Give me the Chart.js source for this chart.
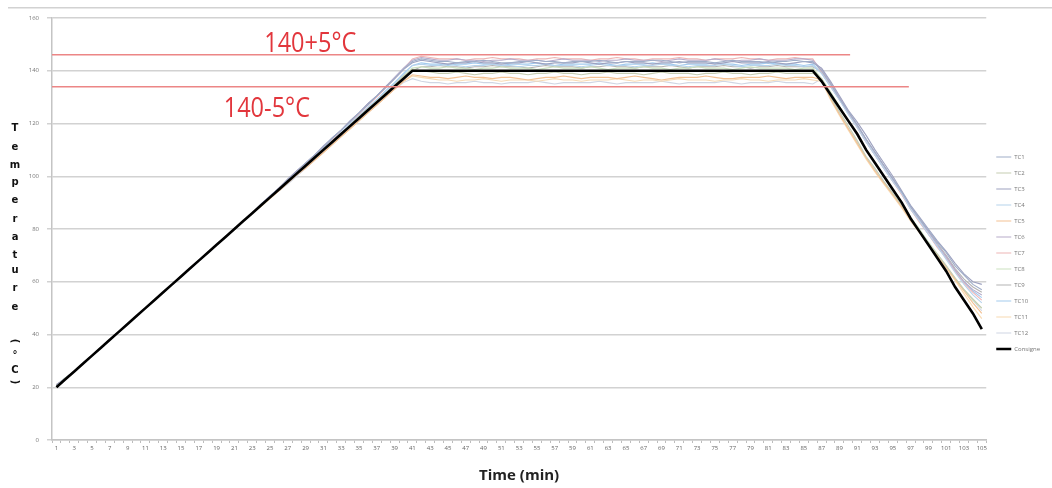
<!DOCTYPE html>
<html>
<head>
<meta charset="utf-8">
<script src="https://cdn.jsdelivr.net/npm/chart.js@4.4.0/dist/chart.umd.min.js"></script>
<style>
  html, body { margin: 0; padding: 0; background: #fff; }
  #wrap { width: 1052px; height: 488px; }
</style>
</head>
<body>
<div id="wrap"><canvas id="tempChart"></canvas></div>
<script>
// time in minutes
var minutes = [1,2,3,4,5,6,7,8,9,10,11,12,13,14,15,16,17,18,19,20,
  21,22,23,24,25,26,27,28,29,30,31,32,33,34,35,36,37,38,39,40,
  41,42,43,44,45,46,47,48,49,50,51,52,53,54,55,56,57,58,59,60,
  61,62,63,64,65,66,67,68,69,70,71,72,73,74,75,76,77,78,79,80,
  81,82,83,84,85,86,87,88,89,90,91,92,93,94,95,96,97,98,99,100,
  101,102,103,104,105];

var yTicks = [0,20,40,60,80,100,120,140,160];

// setpoint
var consigne = [20,23,26,29,32, 35,38,41,44,47, 50,53,56,59,62, 65,68,71,74,77,
  80,83,86,89,92, 95,98,101,104,107, 110,113,116,119,122, 125,128,131,134,137, 140,
  140,140,140,140,140, 140,140,140,140,140, 140,140,140,140,140, 140,140,140,140,140,
  140,140,140,140,140, 140,140,140,140,140, 140,140,140,140,140, 140,140,140,140,140,
  140,140,140,140,140,
  136,131,126,121,116, 110,105,100,95,90, 84,79,74,69,64, 58,53,48,42];

// thermocouples
var tc1 = [21,23,26,29,32, 35,38,41,44,47, 50,53,56,59,62, 65,68,71,74,77,
  80,83,86,89,92.5, 95.5,98.5,101.5,105,108, 111,114.5,117.5,120.5,124, 127,130.5,133.5,137,140.5, 143.5,
  144.5,144,143.5,143.5,143, 143.5,143.5,144,143.5,143, 143,143.5,143.5,144,143.5, 143.5,143,143.5,143.5,143.5,
  144,143.5,143,143.5,143.5, 143.5,144,144,143.5,143, 143.5,143.5,143.5,143,143.5, 144,143.5,143.5,143.5,143,
  143.5,143.5,144,143.5,143.5,
  140,135,129.5,124.5,119.5, 114,109,104,99,94, 88.5,84,79.5,75,71, 66,62.5,59,57];

var tc2 = [20.5,23.5,26,29,32, 35,38,41,44,47, 50,53,56,59,62, 65,68,71,74,77,
  80,83,86,89,92, 95,98,101,104,107, 110,113,116,119.5,122.5, 125.5,128.5,131.5,134.5,138, 140.5,
  140,139.5,139,139,139.5, 139,138.5,139,139,139.5, 139,139,138.5,139,139, 139.5,139,139,138.5,139,
  139,139.5,139,139,139, 138.5,139,139.5,139,139, 139,138.5,139,139,139.5, 139,139,138.5,139,139,
  139.5,139,139,139,139,
  137,130,124.5,119,113.5, 107.5,103,98,93.5,89, 84,79.5,74.5,70.5,66, 61.5,57,53.5,50];

var tc3 = [21,23.5,26,29,32, 35,38,41,44,47, 50,53,56,59,62, 65,68,71,74,77,
  80,83,86,89.5,92.5, 95.5,99,102,105,108, 111.5,114.5,117.5,121,124, 127.5,130.5,134,137,140.5, 143,
  144,143.5,143,142.5,143, 143,143.5,143,143,142.5, 143,143,143.5,143,142.5, 143,143,143,143.5,143,
  142.5,143,143,143.5,143, 143,142.5,143,143,143.5, 143,143,143,142.5,143, 143.5,143,143,143,143.5,
  143,142.5,143,143.5,143,
  141,136,130.5,125,120.5, 115.5,110,105,100,94.5, 89,84.5,80,75.5,71.5, 67,63,60,59];

var tc4 = [20.5,23.5,26,29,32, 35,38,41,44,47, 50,53,56,59,62, 65,68,71,74,77,
  80,83,86,89,92, 95,98,101,104,107.5, 110.5,113.5,116.5,120,123, 126,129,132,135,138.5, 142,
  142.5,142,142,142.5,142, 141.5,142,142,142.5,142, 142,141.5,142,142,142.5, 142,142,142,141.5,142,
  142.5,142,142,142,141.5, 142,142,142.5,142,142, 141.5,142,142,142,142.5, 142,141.5,142,142,142,
  142.5,142,142,141.5,142,
  139,134,129,123.5,118.5, 113,108,103,98,93.5, 87.5,83,78,73.5,68.5, 63.5,59,55,52];

var tc5 = [21,23,26,29,32, 35,38,41,44,47, 50,53,56,59,62, 65,68,71,74,77,
  80,83,86,89,91.5, 94.5,97.5,100.5,103,106, 109,112,115,118,121, 124,127,130,133,136, 138.5,
  138,137.5,137.5,137,137.5, 138,137.5,137.5,137,137.5, 137.5,137,136.5,137,137.5, 137.5,138,137.5,137,137.5,
  137.5,137.5,137,137.5,138, 137.5,137,136.5,137,137.5, 137.5,137.5,138,137.5,137, 137,137.5,137.5,137.5,138,
  137.5,137,137.5,137.5,137.5,
  136.5,129.5,123.5,118,112.5, 107,102,97.5,93,88.5, 83.5,79,74.5,70,65.5, 61,56.5,52,48];

var tc6 = [21,23,26,29,32, 35,38,41,44,47, 50,53,56,59,62, 65,68,71,74,77,
  80,83,86,89,92.5, 95.5,98.5,102,105,108, 111,114.5,117.5,121,124, 127.5,130.5,134,137.5,141, 144,
  145,144.5,144,144,144.5, 144,144,143.5,144,144, 144.5,144,144,144,143.5, 144,144.5,144,144,144,
  143.5,144,144,144.5,144, 144,144,143.5,144,144.5, 144,144,144,144.5,144, 143.5,144,144,144.5,144,
  144,144,144.5,144.5,144,
  140.5,135.5,130,124.5,119.5, 114,109,104,99,94, 88.5,83.5,79,74,69.5, 64.5,60,57,55];

var tc7 = [21,23,26,29,32, 35,38,41,44,47, 50,53,56,59,62, 65,68,71,74,77,
  80,83,86,89,92, 95.5,98.5,101.5,104.5,108, 111,114,117.5,120.5,123.5, 127,130,133.5,137,140.5, 144.5,
  145.5,145,144.5,144.5,144.5, 144,144.5,144.5,145,144.5, 144.5,144.5,144,144.5,144.5, 145,144.5,144.5,144.5,144,
  144.5,144.5,145,144.5,144.5, 144,144.5,144.5,144.5,145, 144.5,144.5,144,144.5,144.5, 144.5,145,144.5,144.5,144,
  144.5,144.5,145,144.5,144.5,
  139.5,134,129,124,118.5, 113,108,103,98,93, 87.5,82.5,78,73,69, 64,59.5,56,53];

var tc8 = [20.5,23.5,26,29,32, 35,38,41,44,47, 50,53,56,59,62, 65,68,71,74,77,
  80,83,86,89,92, 95,98,101,104,107, 110,113,116,119,122.5, 125.5,128.5,131.5,135,138, 141,
  141.5,141,141,141.5,141, 141,140.5,141,141,141.5, 141,141,141,140.5,141, 141.5,141,141,141,141.5,
  141,140.5,141,141,141, 141.5,141,141,140.5,141, 141,141.5,141,141,141, 140.5,141,141.5,141,141,
  141,141,140.5,141,141,
  137,132,126.5,121,116, 110,105,100,95,90, 84.5,80,75,70.5,66, 61,57,53,50];

var tc9 = [21,23,26,29,32, 35,38,41,44,47, 50,53,56,59,62, 65,68,71,74,77,
  80,83,86,89,92, 94.5,97.5,100.5,103.5,106.5, 109.5,112.5,115.5,118.5,121.5, 124.5,127.5,130.5,133.5,137, 140,
  141.5,141.5,142,141.5,141.5, 141,141.5,141.5,142,141.5, 141.5,141.5,141,141.5,142, 141.5,141.5,141.5,141,141.5,
  141.5,142,141.5,141.5,141, 141.5,141.5,141.5,142,141.5, 141,141.5,141.5,141.5,142, 141.5,141.5,141,141.5,141.5,
  142,141.5,141.5,141.5,141.5,
  139.5,135,129.5,124.5,119, 114,109,104,99,94, 88.5,83.5,79,74.5,70, 65,61,58,56];

var tc10 = [20.5,23.5,26,29,32, 35,38,41,44,47, 50,53,56,59,62, 65,68,71,74,77,
  80,83,86,89,92, 95,98,101,104,107, 110.5,113.5,116.5,119.5,123, 126,129,132.5,135.5,139, 142,
  143,142.5,142.5,142,142.5, 142.5,143,142.5,142.5,142, 142.5,142.5,142.5,143,142.5, 142,142.5,142.5,142.5,142.5,
  143,142.5,142,142.5,142.5, 142.5,143,142.5,142.5,142, 142.5,142.5,142.5,143,142.5, 142.5,142,142.5,142.5,143,
  142.5,142.5,142.5,142,142.5,
  139,134,129,123.5,118.5, 113,108,103,98,93.5, 87.5,83,78,73.5,69, 64,60,56.5,54];

var tc11 = [21,23,26,29,32, 35,38,41,44,47, 50,53,56,59,62, 65,68,71,74,77,
  80,83,86,88.5,91.5, 94.5,97.5,100.5,103.5,106, 109,112,115,118,121, 124,127,130,133,136, 138,
  137.5,137,136.5,136.5,136, 136.5,136.5,137,136.5,136, 136.5,136.5,136.5,136,136.5, 137,136.5,136.5,136,136.5,
  136.5,136.5,137,136.5,136, 136.5,136.5,136,136.5,137, 136.5,136.5,136.5,136,136.5, 136.5,137,136.5,136.5,136,
  136.5,136.5,136.5,137,136.5,
  136,129,123,117.5,112, 106.5,101.5,97,92.5,88, 83,78.5,74,69.5,65, 60.5,55.5,50.5,46];

var tc12 = [21,23,26,29,32, 35,38,41,44,47, 50,53,56,59,62, 65,68,71,74,77,
  80,83,86,89,91.5, 94.5,97,100,103,106, 109,112,115,118,121, 124,127,130,133,135.5, 137,
  136,135.5,135.5,135,135.5, 135.5,136,135.5,135.5,135, 135.5,135.5,135.5,136,135.5, 135,135.5,135.5,135.5,135.5,
  136,135.5,135,135.5,135.5, 135.5,135.5,136,135.5,135, 135.5,135.5,135.5,135.5,136, 135.5,135,135.5,135.5,135.5,
  136,135.5,135.5,135.5,135,
  137,130.5,124,118,113, 107,102.5,98,93.5,89, 84,79.5,75,70.5,66, 61,57,53,49];

var seriesNames = ['TC1','TC2','TC3','TC4','TC5','TC6','TC7','TC8','TC9','TC10','TC11','TC12'];
var seriesData = [tc1,tc2,tc3,tc4,tc5,tc6,tc7,tc8,tc9,tc10,tc11,tc12];
var seriesColors = ['#9fadc8','#c6cdb2','#9ea2c0','#b6d3ec','#f3c193','#b7acca',
                    '#eeb5b5','#cbe2c0','#b4b4b4','#a3cbee','#f7dab2','#d0d6e3'];

// tolerance band 140 +/- 5
var limitValues = [146, 133.7];
var limitLabels = ['140+5°C', '140-5°C'];

var datasets = seriesNames.map(function (name, i) {
  return {
    label: name,
    data: seriesData[i],
    borderColor: seriesColors[i],
    backgroundColor: seriesColors[i],
    borderWidth: 1.1,
    pointRadius: 0,
    tension: 0,
    order: 1
  };
});
datasets.push({
  label: 'Consigne',
  data: consigne,
  borderColor: '#000',
  backgroundColor: '#000',
  borderWidth: 2.6,
  pointRadius: 0,
  tension: 0,
  order: 0
});

// red band lines, their captions, frame line and stacked y title
var extras = {
  id: 'extras',
  beforeDraw: function (chart) {
    var ctx = chart.ctx;
    ctx.save();
    ctx.fillStyle = '#d2d2d2';
    ctx.fillRect(8, 7, 1044, 1.5);
    ctx.restore();
  },
  afterDatasetsDraw: function (chart) {
    var ctx = chart.ctx, x = chart.scales.x, y = chart.scales.y;
    var ends = [89.2, 95.8];
    var textAt = [[23.35, 147.1], [18.8, 122.3]];
    ctx.save();
    for (var i = 0; i < limitValues.length; i++) {
      var py = Math.round(y.getPixelForValue(limitValues[i]));
      var left = chart.chartArea.left;
      ctx.fillStyle = '#ec8686';
      ctx.fillRect(left, py - 1, x.getPixelForValue(ends[i]) - left, 1.5);

      ctx.save();
      ctx.translate(x.getPixelForValue(textAt[i][0]), y.getPixelForValue(textAt[i][1]));
      ctx.scale(0.84, 1);
      ctx.fillStyle = '#e2363c';
      ctx.font = '28px "Open Sans"';
      ctx.textBaseline = 'alphabetic';
      ctx.fillText(limitLabels[i], 0, 0);
      ctx.restore();
    }

    var chars = ['T','e','m','p','e','r','a','t','u','r','e','(','°','C',')'];
    var ys = [128,147,165,182,200,219,237,255,270,288,307,341,355,370,382];
    ctx.fillStyle = '#111';
    ctx.font = 'bold 10px "DejaVu Sans"';
    ctx.textAlign = 'center';
    ctx.textBaseline = 'middle';
    for (var k = 0; k < chars.length; k++) {
      if (chars[k] === '(' || chars[k] === ')') {
        ctx.save();
        ctx.translate(15, ys[k]);
        ctx.rotate(Math.PI / 2);
        ctx.fillText(chars[k], 0, 0);
        ctx.restore();
      } else {
        ctx.fillText(chars[k], 15, ys[k]);
      }
    }
    ctx.restore();
  }
};

new Chart(document.getElementById('tempChart'), {
  type: 'line',
  data: { labels: minutes, datasets: datasets },
  plugins: [extras],
  options: {
    responsive: true,
    maintainAspectRatio: false,
    devicePixelRatio: 1,
    animation: false,
    layout: { padding: { top: 18, left: 0, right: 2, bottom: 0 } },
    plugins: {
      tooltip: { enabled: false },
      legend: {
        position: 'right',
        labels: {
          usePointStyle: true,
          pointStyle: 'line',
          pointStyleWidth: 15,
          padding: 10,
          color: '#777',
          font: { size: 6, family: '"Open Sans"' },
          sort: function (a, b) { return a.datasetIndex - b.datasetIndex; }
        }
      }
    },
    scales: {
      x: {
        offset: true,
        grid: { display: true, drawOnChartArea: false, offset: true, tickLength: 3, color: '#bdbdbd' },
        border: { color: '#c4c4c4', width: 1.5 },
        ticks: {
          autoSkip: false,
          maxRotation: 0,
          minRotation: 0,
          padding: 2,
          color: '#666',
          font: { size: 6, family: '"Open Sans"' },
          callback: function (v, i) { return i % 2 === 0 ? minutes[i] : ''; }
        },
        title: {
          display: true,
          text: 'Time (min)',
          color: '#222',
          font: { size: 15, weight: 'bold', family: '"Open Sans"' },
          padding: { top: 0, bottom: 3 }
        },
        afterFit: function (s) { s.height = 48; }
      },
      y: {
        min: 0,
        max: 160,
        afterBuildTicks: function (s) { s.ticks = yTicks.map(function (v) { return { value: v }; }); },
        grid: { color: '#d2d2d2', lineWidth: 1.5, tickLength: 5 },
        border: { color: '#c4c4c4', width: 1.5 },
        ticks: {
          padding: 8,
          color: '#777',
          font: { size: 6, family: '"Open Sans"' }
        },
        afterFit: function (s) { s.width = 52; }
      }
    }
  }
});
</script>
</body>
</html>
